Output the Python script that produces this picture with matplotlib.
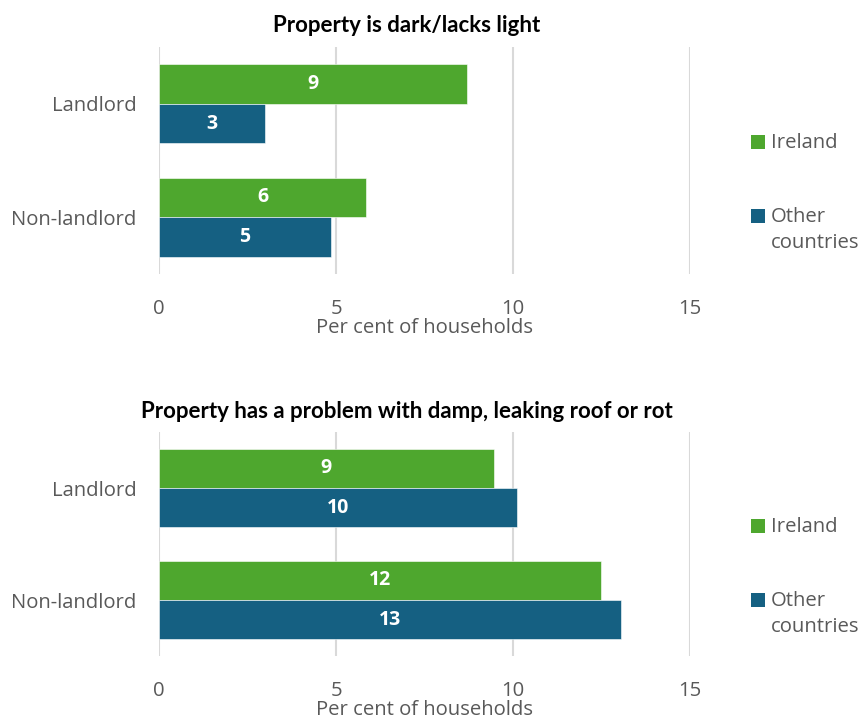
import matplotlib
matplotlib.use("Agg")
import matplotlib.pyplot as plt
from matplotlib.patches import Rectangle
import numpy as np

# Housing-condition problems by landlord status, households born in Ireland vs other countries
categories = ["Landlord", "Non-landlord"]
series = ["Ireland", "Other countries"]
legend_labels = ["Ireland", "Other\ncountries"]

dark_ireland = [8.7, 5.85]
dark_other = [3.0, 4.85]

damp_ireland = [9.45, 12.49]
damp_other = [10.1, 13.05]

titles = [
    "Property is dark/lacks light",
    "Property has a problem with damp, leaking roof or rot",
]
x_ticks = [0, 5, 10, 15]
x_label = "Per cent of households"

GREEN = "#4EA72E"
BLUE = "#156082"
GREY_TEXT = "#595959"
GRID = "#D9D9D9"
BODY_FONT = "Open Sans"
TITLE_FONT = "Lato"
BODY_SIZE = 14.6

fig = plt.figure(figsize=(8.63, 7.20), dpi=100)

W, H = 863.0, 720.0
panels = [
    dict(box=(159, 47, 690, 274), title_y=25, leg=(142, 216),
         ireland=dark_ireland, other=dark_other, title=titles[0]),
    dict(box=(159, 432, 690, 656), title_y=411, leg=(526, 600),
         ireland=damp_ireland, other=damp_other, title=titles[1]),
]

bar_h = 0.35
y = np.arange(len(categories))

for p in panels:
    l, t, r, b = p["box"]
    ax = fig.add_axes([l / W, 1 - b / H, (r - l) / W, (b - t) / H])
    ax.barh(y - bar_h / 2, p["ireland"], height=bar_h, color=GREEN,
            edgecolor="#FFFFFF", linewidth=0.4, zorder=3)
    ax.barh(y + bar_h / 2, p["other"], height=bar_h, color=BLUE,
            edgecolor="#FFFFFF", linewidth=0.4, zorder=3)
    for yi, v in zip(y - bar_h / 2, p["ireland"]):
        ax.text(v / 2, yi, f"{v:.0f}", ha="center", va="center", color="white",
                fontsize=14, fontweight="bold", family=BODY_FONT, zorder=4)
    for yi, v in zip(y + bar_h / 2, p["other"]):
        ax.text(v / 2, yi, f"{v:.0f}", ha="center", va="center", color="white",
                fontsize=14, fontweight="bold", family=BODY_FONT, zorder=4)

    ax.set_xlim(0, 15)
    ax.set_ylim(len(categories) - 0.5, -0.5)
    ax.set_xticks(x_ticks)
    ax.set_yticks(y)
    ax.set_yticklabels(categories)
    ax.xaxis.grid(True, color=GRID, linewidth=1.5, zorder=0)
    ax.set_axisbelow(True)
    for s in ax.spines.values():
        s.set_visible(False)
    ax.tick_params(axis="both", length=0, labelsize=BODY_SIZE, labelcolor=GREY_TEXT)
    ax.tick_params(axis="x", pad=18)
    ax.tick_params(axis="y", pad=16)
    for lab in ax.get_xticklabels() + ax.get_yticklabels():
        lab.set_family(BODY_FONT)
    ax.set_xlabel(x_label, fontsize=BODY_SIZE, color=GREY_TEXT, family=BODY_FONT,
                  labelpad=-1)

    fig.text(407 / W, 1 - p["title_y"] / H, p["title"], ha="center",
             va="center", fontsize=16, fontweight="bold", family=TITLE_FONT,
             color="black")

    # legend
    for ly, lab, col in zip(p["leg"], legend_labels, [GREEN, BLUE]):
        fig.patches.append(Rectangle((751 / W, 1 - (ly + 7) / H), 14 / W, 14 / H,
                                     transform=fig.transFigure,
                                     facecolor=col, edgecolor="none"))
        fig.text(771 / W, 1 - (ly - 9) / H, lab, ha="left", va="top",
                 fontsize=BODY_SIZE, color=GREY_TEXT, family=BODY_FONT,
                 linespacing=1.4)

fig.savefig("out.png", dpi=100, facecolor="white")
